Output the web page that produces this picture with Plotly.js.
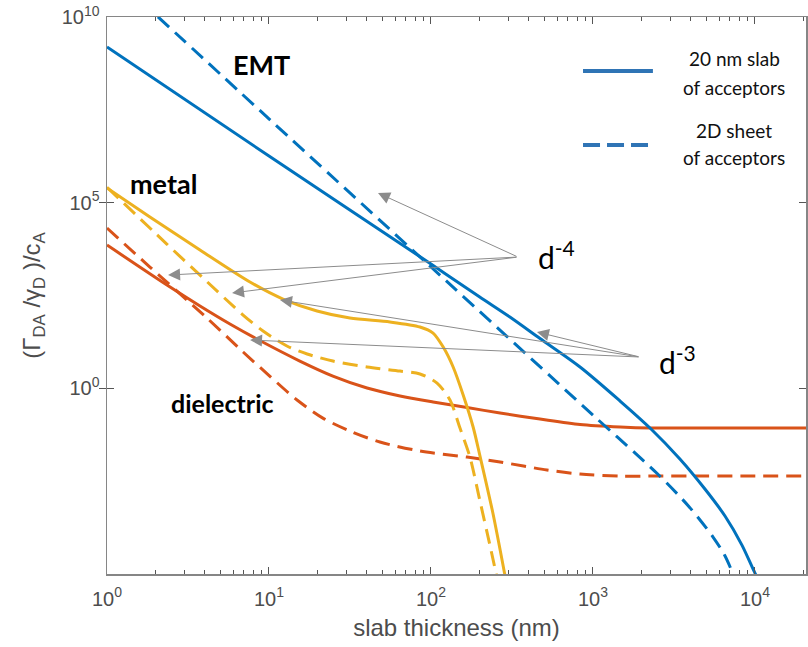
<!DOCTYPE html>
<html>
<head>
<meta charset="utf-8">
<script src="https://cdn.plot.ly/plotly-3.0.1.min.js"></script>
<style>
  html, body { margin: 0; padding: 0; background: #ffffff; }
  #chart { width: 808px; height: 647px; }
</style>
</head>
<body>
<div id="chart"></div>
<script>
// Donor-acceptor transfer rate vs slab thickness, log-log.
// Solid lines: 20 nm slab of acceptors; dashed lines: 2D sheet of acceptors.

// EMT (blue)
const emtSlabD = [1, 10, 100, 200, 307, 471, 832, 1470, 2250, 3440, 4910, 6530, 8310, 10000, 10740];
const emtSlabRate = [1.56e9, 1.80e6, 2230, 288, 83.2, 21.9, 3.75, 0.455, 0.0853, 0.0125, 1.94e-3, 3.64e-4, 6.0e-5, 1.06e-5, 6.0e-6];
const emtSheetD = [1, 10, 100, 1000, 2500, 3930, 5510, 6500, 7400];
const emtSheetRate = [1.85e11, 1.81e7, 1850, 0.19, 0.0050, 6.4e-4, 9.9e-5, 3.2e-5, 9.0e-6];

// metal (yellow)
const metalSlabD = [1, 1.84, 3.75, 7.63, 12.2, 19.8, 31.6, 55.8, 85.5, 103, 119, 137, 158, 182, 200, 241, 286];
const metalSlabRate = [2.48e5, 4.11e4, 5310, 730, 254, 121, 78.2, 61.1, 44.8, 30.8, 12.9, 3.75, 0.660, 0.0908, 0.0160, 4.39e-4, 9.3e-6];
const metalSheetD = [1, 2.34, 3.92, 6.92, 9.19, 12.9, 17.2, 24.8, 40.3, 64.4, 85.5, 109, 131, 151, 174, 200, 231, 255];
const metalSheetRate = [2.6e5, 7690, 935, 94.2, 34.9, 13.8, 8.40, 5.43, 3.75, 2.92, 2.43, 1.39, 0.484, 0.0853, 0.0141, 9.8e-4, 6.0e-5, 8.3e-6];

// dielectric (orange)
const dielSlabD = [1, 2.345, 3.75, 5.74, 8.43, 15.5, 24.8, 40.3, 64.4, 103, 167, 267, 471, 832, 1470, 2250, 5000, 10000, 30000];
const dielSlabRate = [7230, 605, 165, 54.0, 21.3, 5.43, 2.14, 1.02, 0.621, 0.428, 0.304, 0.216, 0.149, 0.106, 0.0908, 0.0853, 0.0853, 0.0853, 0.0853];
const dielSheetD = [1, 1.84, 4.14, 6.92, 10.1, 14.9, 21.5, 31.6, 48.4, 85.5, 167, 267, 520, 832, 1470, 2500, 5000, 10000, 30000];
const dielSheetRate = [2.07e4, 1849, 78.2, 9.51, 2.14, 0.484, 0.158, 0.0708, 0.0358, 0.0205, 0.0141, 0.0104, 0.00631, 0.00492, 0.00434, 0.00434, 0.00434, 0.00434, 0.00434];

// axis ticks
const xTickVals = [1, 10, 100, 1000, 10000];
const xTickText = ['10<sup>0</sup>', '10<sup>1</sup>', '10<sup>2</sup>', '10<sup>3</sup>', '10<sup>4</sup>'];
const yTickVals = [1, 1e5, 1e10];
const yTickText = ['10<sup>0</sup>', '10<sup>5</sup>', '10<sup>10</sup>'];

const BLUE = '#0072BD', ORANGE = '#D95319', YELLOW = '#EDB120';
const AXIS = '#868686', TICKCOL = '#555', TICKFONT = '#4d4d4d';
const DASH = '15px,8px';
const SANS = '"Liberation Sans", Arial, sans-serif';

function curve(x, y, color, dashed) {
  return {
    x: x, y: y, type: 'scatter', mode: 'lines', showlegend: false, hoverinfo: 'skip',
    line: { color: color, width: 3, dash: dashed ? DASH : 'solid', shape: 'spline', smoothing: 0.8 }
  };
}

const traces = [
  curve(dielSlabD, dielSlabRate, ORANGE, false),
  curve(dielSheetD, dielSheetRate, ORANGE, true),
  curve(metalSlabD, metalSlabRate, YELLOW, false),
  curve(metalSheetD, metalSheetRate, YELLOW, true),
  curve(emtSlabD, emtSlabRate, BLUE, false),
  curve(emtSheetD, emtSheetRate, BLUE, true),
  // empty trace that holds the minor-tick axis
  { x: [], y: [], type: 'scatter', mode: 'lines', xaxis: 'x2', yaxis: 'y', showlegend: false, hoverinfo: 'skip' }
];

// minor ticks 2..9 per decade on the thickness axis
const xMinor = [];
for (let e = 0; e <= 4; e++) for (let m = 2; m <= 9; m++) xMinor.push(m * Math.pow(10, e));

const LABEL_FONT = 'Lato, "Open Sans", sans-serif';
const ARROW = { showarrow: true, arrowhead: 2, arrowsize: 2.4, arrowwidth: 1, arrowcolor: '#8c8c8c', axref: 'x', ayref: 'y', text: '' };

// arrows in log10 axis units
const arrowsD4 = [[1.673, 5.260], [0.377, 3.051], [0.772, 2.567]];
const arrowsD3 = [[2.654, 1.516], [1.068, 2.378], [0.883, 1.301]];
const apexD4 = [2.537, 3.536], apexD3 = [3.290, 0.843];

const annotations = [];
arrowsD4.forEach(p => annotations.push(Object.assign({}, ARROW, { x: p[0], y: p[1], ax: apexD4[0], ay: apexD4[1] })));
arrowsD3.forEach(p => annotations.push(Object.assign({}, ARROW, { x: p[0], y: p[1], ax: apexD3[0], ay: apexD3[1] })));

function label(text, x, y, size, bold) {
  return { text: bold ? '<b>' + text + '</b>' : text, x: x, y: y, showarrow: false,
           font: { family: LABEL_FONT, size: size, color: '#000' }, xanchor: 'center', yanchor: 'middle' };
}
annotations.push(label('EMT', 0.951, 8.734, 27, true));
annotations.push(label('metal', 0.346, 5.529, 27, true));
annotations.push(label('dielectric', 0.716, -0.396, 25, true));
annotations.push(label('d<sup>-4</sup>', 2.772, 3.59, 30, false));
annotations.push(label('d<sup>-3</sup>', 3.519, 0.762, 30, false));

// legend block
function legText(text, py) {
  return { text: text, xref: 'paper', yref: 'paper', x: 0.897, y: py, showarrow: false,
           font: { family: LABEL_FONT, size: 19, color: '#111' }, xanchor: 'center', yanchor: 'middle' };
}
annotations.push(legText('20 nm slab', 0.9246));
annotations.push(legText('of acceptors', 0.8743));
annotations.push(legText('2D sheet', 0.7971));
annotations.push(legText('of acceptors', 0.7469));

const shapes = [
  { type: 'line', xref: 'paper', yref: 'paper', x0: 0.681, x1: 0.781, y0: 0.903, y1: 0.903, line: { color: '#2F74B5', width: 4 } },
  { type: 'line', xref: 'paper', yref: 'paper', x0: 0.681, x1: 0.781, y0: 0.770, y1: 0.770, line: { color: '#2F74B5', width: 4, dash: '17px,7px' } }
];

const layout = {
  width: 808, height: 647,
  margin: { l: 107, r: 2, t: 17, b: 73 },
  paper_bgcolor: '#fff', plot_bgcolor: '#fff',
  showlegend: false,
  xaxis: {
    type: 'log', range: [0, 4.315], showgrid: false, zeroline: false,
    showline: true, linecolor: AXIS, linewidth: 1.5, mirror: 'allticks',
    ticks: 'inside', ticklen: 7, tickwidth: 1, tickcolor: TICKCOL,
    tickvals: xTickVals, ticktext: xTickText, ticklabelstandoff: 6,
    tickfont: { family: SANS, size: 20, color: TICKFONT },
    title: { text: 'slab thickness (nm)', font: { family: SANS, size: 24, color: TICKFONT }, standoff: 10 }
  },
  xaxis2: {
    type: 'log', range: [0, 4.315], overlaying: 'x', anchor: 'y', side: 'bottom',
    showgrid: false, zeroline: false, showline: false, mirror: 'allticks',
    ticks: 'inside', ticklen: 4, tickwidth: 1, tickcolor: TICKCOL,
    tickvals: xMinor, showticklabels: false
  },
  yaxis: {
    type: 'log', range: [-5, 10], showgrid: false, zeroline: false,
    showline: true, linecolor: AXIS, linewidth: 1.5, mirror: 'allticks',
    ticks: 'inside', ticklen: 7, tickwidth: 1, tickcolor: TICKCOL,
    tickvals: yTickVals, ticktext: yTickText, ticklabelstandoff: 2,
    tickfont: { family: SANS, size: 20, color: TICKFONT },
    title: { text: '(Γ<sub>DA</sub> /γ<sub>D</sub> )/c<sub>A</sub>', font: { family: SANS, size: 24, color: TICKFONT }, standoff: 14 }
  },
  annotations: annotations,
  shapes: shapes
};

Plotly.newPlot('chart', traces, layout, { staticPlot: true, displayModeBar: false });
</script>
</body>
</html>
